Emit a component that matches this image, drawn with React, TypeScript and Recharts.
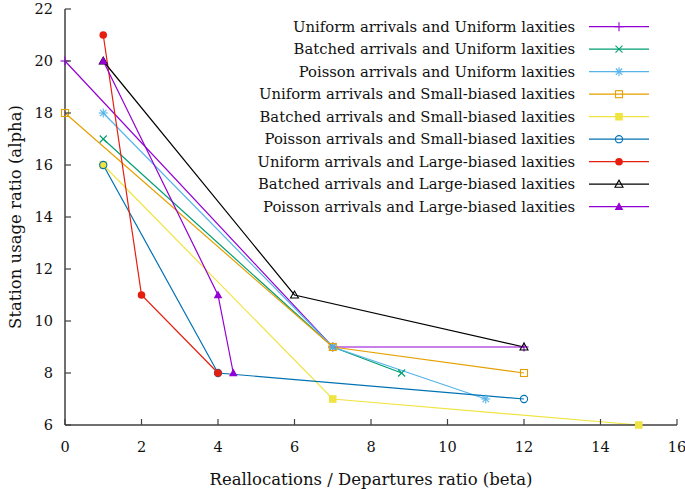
import { LineChart, Line, XAxis, YAxis, Legend } from 'recharts'

// [beta, alpha] points
const uniformUniform = [[0, 20], [7, 9], [12, 9]]
const batchedUniform = [[1, 17], [7, 9], [8.8, 8]]
const poissonUniform = [[1, 18], [7, 9], [11, 7]]
const uniformSmall = [[0, 18], [7, 9], [12, 8]]
const batchedSmall = [[1, 16], [7, 7], [15, 6]]
const poissonSmall = [[1, 16], [4, 8], [12, 7]]
const uniformLarge = [[1, 21], [2, 11], [4, 8]]
const batchedLarge = [[1, 20], [6, 11], [12, 9]]
const poissonLarge = [[1, 20], [4, 11], [4.4, 8]]

const seriesNames = [
    'Uniform arrivals and Uniform laxities',
    'Batched arrivals and Uniform laxities',
    'Poisson arrivals and Uniform laxities',
    'Uniform arrivals and Small-biased laxities',
    'Batched arrivals and Small-biased laxities',
    'Poisson arrivals and Small-biased laxities',
    'Uniform arrivals and Large-biased laxities',
    'Batched arrivals and Large-biased laxities',
    'Poisson arrivals and Large-biased laxities',
]
const seriesColors = ['#9400d3', '#009e73', '#56b4e9', '#e69f00', '#f0e442', '#0072b2', '#e51e10', '#000000', '#9400d3']
const seriesMarkers = ['plus', 'cross', 'star', 'squareOpen', 'squareFilled', 'circleOpen', 'circleFilled', 'triangleOpen', 'triangleFilled']

const xTicks = [0, 2, 4, 6, 8, 10, 12, 14, 16]
const yTicks = [6, 8, 10, 12, 14, 16, 18, 20, 22]

const allSeries = [uniformUniform, batchedUniform, poissonUniform, uniformSmall, batchedSmall, poissonSmall, uniformLarge, batchedLarge, poissonLarge]
    .map(pts => pts.map(([beta, alpha]) => ({ beta, alpha })))

const FONT = '"DejaVu Serif", serif'
const FRAME = '#404040'

const Marker = ({ kind, cx, cy, color }: any) => {
    const s = 4.5
    const sw = 1.1
    switch (kind) {
        case 'plus':
            return <g stroke={color} strokeWidth={sw}>
                <line x1={cx - s} y1={cy} x2={cx + s} y2={cy} />
                <line x1={cx} y1={cy - s} x2={cx} y2={cy + s} />
            </g>
        case 'cross':
            return <g stroke={color} strokeWidth={sw}>
                <line x1={cx - 3.5} y1={cy - 3.5} x2={cx + 3.5} y2={cy + 3.5} />
                <line x1={cx - 3.5} y1={cy + 3.5} x2={cx + 3.5} y2={cy - 3.5} />
            </g>
        case 'star':
            return <g stroke={color} strokeWidth={sw}>
                <line x1={cx - s} y1={cy} x2={cx + s} y2={cy} />
                <line x1={cx} y1={cy - s} x2={cx} y2={cy + s} />
                <line x1={cx - 3.2} y1={cy - 3.2} x2={cx + 3.2} y2={cy + 3.2} />
                <line x1={cx - 3.2} y1={cy + 3.2} x2={cx + 3.2} y2={cy - 3.2} />
            </g>
        case 'squareOpen':
            return <rect x={cx - 3.5} y={cy - 3.5} width={7} height={7} fill="none" stroke={color} strokeWidth={sw} />
        case 'squareFilled':
            return <rect x={cx - 3.8} y={cy - 3.8} width={7.6} height={7.6} fill={color} />
        case 'circleOpen':
            return <circle cx={cx} cy={cy} r={3.6} fill="none" stroke={color} strokeWidth={sw} />
        case 'circleFilled':
            return <circle cx={cx} cy={cy} r={3.8} fill={color} />
        case 'triangleOpen':
            return <polygon points={`${cx - 4},${cy + 3} ${cx + 4},${cy + 3} ${cx},${cy - 4}`} fill="none" stroke={color} strokeWidth={sw} />
        default:
            return <polygon points={`${cx - 4.3},${cy + 3.2} ${cx + 4.3},${cy + 3.2} ${cx},${cy - 4.5}`} fill={color} />
    }
}

const BottomTick = ({ x, y, payload }: any) => (
    <g>
        <line x1={x} y1={y} x2={x} y2={y - 6} stroke={FRAME} strokeWidth={1.2} />
        <text x={x} y={y + 27} textAnchor="middle" fontFamily={FONT} fontSize={14.5} fill="#111">{payload.value}</text>
    </g>
)
const TopTick = ({ x, y }: any) => <line x1={x} y1={y} x2={x} y2={y + 6} stroke={FRAME} strokeWidth={1.2} />
const LeftTick = ({ x, y, payload }: any) => (
    <g>
        <line x1={x} y1={y} x2={x + 6} y2={y} stroke={FRAME} strokeWidth={1.2} />
        <text x={x - 12} y={y + 5} textAnchor="end" fontFamily={FONT} fontSize={14.5} fill="#111">{payload.value}</text>
    </g>
)
const RightTick = ({ x, y }: any) => <line x1={x} y1={y} x2={x - 6} y2={y} stroke={FRAME} strokeWidth={1.2} />

const renderLegend = (props: any) => {
    const entries = [...props.payload].sort((a: any, b: any) => seriesNames.indexOf(a.value) - seriesNames.indexOf(b.value))
    return (
        <svg width={685} height={220} style={{ display: 'block' }}>
            {entries.map((entry: any, i: number) => {
                const y = 26.7 + i * 22.5
                return (
                    <g key={`leg-${i}`}>
                        <text x={575} y={y + 5} textAnchor="end" fontFamily={FONT} fontSize={14.8} fill="#111">{entry.value}</text>
                        <line x1={589} y1={y} x2={649} y2={y} stroke={entry.color} strokeWidth={1.2} />
                        <Marker kind={seriesMarkers[i]} cx={619} cy={y} color={entry.color} />
                    </g>
                )
            })}
        </svg>
    )
}

export default function App() {
    return (
        <div style={{ position: 'absolute', left: 0, top: 0, background: '#fff' }}>
            <LineChart width={685} height={489} margin={{ top: 9, right: 8, bottom: 0, left: 0 }}>
                <XAxis dataKey="beta" type="number" domain={[0, 16]} ticks={xTicks} interval={0} height={64}
                    tickSize={0} tickMargin={0} tick={<BottomTick />} axisLine={{ stroke: FRAME, strokeWidth: 1.5 }}
                    label={{
                        content: ({ viewBox }: any) => (
                            <text x={viewBox.x + viewBox.width / 2} y={viewBox.y + 60} textAnchor="middle" fontFamily={FONT} fontSize={16.5} fill="#111">
                                Reallocations / Departures ratio (beta)
                            </text>
                        )
                    }} />
                <XAxis xAxisId="top" orientation="top" type="number" domain={[0, 16]} ticks={xTicks} interval={0} height={0}
                    tickSize={0} tickMargin={0} tick={<TopTick />} axisLine={{ stroke: FRAME, strokeWidth: 1.5 }} />
                <YAxis type="number" domain={[6, 22]} ticks={yTicks} interval={0} width={65}
                    tickSize={0} tickMargin={0} tick={<LeftTick />} axisLine={{ stroke: FRAME, strokeWidth: 1.5 }}
                    label={{
                        content: ({ viewBox }: any) => {
                            const cy = viewBox.y + viewBox.height / 2
                            return (
                                <text x={21} y={cy} transform={`rotate(-90, 21, ${cy})`} textAnchor="middle" fontFamily={FONT} fontSize={16.5} fill="#111">
                                    Station usage ratio (alpha)
                                </text>
                            )
                        }
                    }} />
                <YAxis yAxisId="right" orientation="right" type="number" domain={[6, 22]} ticks={yTicks} interval={0} width={0}
                    tickSize={0} tickMargin={0} tick={<RightTick />} axisLine={{ stroke: FRAME, strokeWidth: 1.5 }} />
                <Legend layout="vertical" align="center" verticalAlign="middle" content={renderLegend}
                    wrapperStyle={{ left: 0, top: 0, width: 685, height: 220 }} />
                {allSeries.map((data, i) => (
                    <Line key={seriesNames[i]} data={data} dataKey="alpha" name={seriesNames[i]} type="linear"
                        stroke={seriesColors[i]} strokeWidth={1.2} isAnimationActive={false} legendType="line"
                        dot={(p: any) => <Marker key={`d-${i}-${p.index}`} kind={seriesMarkers[i]} cx={p.cx} cy={p.cy} color={seriesColors[i]} />}
                        activeDot={false} />
                ))}
            </LineChart>
        </div>
    )
}
